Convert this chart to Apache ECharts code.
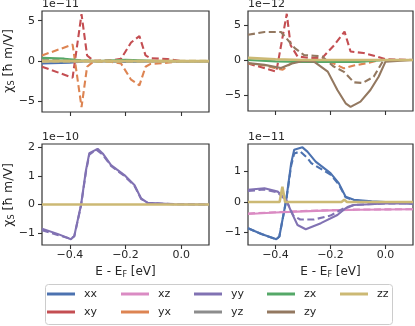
<!DOCTYPE html>
<html>
<head>
<meta charset="utf-8">
<script src="https://cdn.jsdelivr.net/npm/echarts@6/dist/echarts.min.js"></script>
<style>
html, body { margin: 0; padding: 0; background: #fff; }
#main { width: 415px; height: 326px; }
</style>
</head>
<body>
<div id="main"></div>
<script>
// component names and colours (legend order)
const comps = ['xx', 'xy', 'xz', 'yx', 'yy', 'yz', 'zx', 'zy', 'zz']
const colors = {
  xx: '#4c72b0', xy: '#c44e52', xz: '#da8bc3', yx: '#dd8452', yy: '#8172b3',
  yz: '#8c8c8c', zx: '#55a868', zy: '#937860', zz: '#ccb974'
}

const xTicks = [-0.4, -0.2, 0.0]
const yTicksTL = [-5, 0, 5]
const yTicksTR = [-5, 0, 5]
const yTicksBL = [-1, 0, 1, 2]
const yTicksBR = [-1, 0, 1]

// top left panel, units of 1e-11
const xyDashTL = [[-0.5,-0.7],[-0.39,-2.05],[-0.358,5.8],[-0.338,0.7],[-0.315,0.05],[-0.25,0.1],[-0.216,0.3],[-0.18,2.3],[-0.15,3.1],[-0.128,0.7],[-0.11,0.35],[-0.05,0.25],[0,0],[0.1,0]]
const yxDashTL = [[-0.5,0.7],[-0.39,2.05],[-0.358,-5.7],[-0.338,-0.7],[-0.315,-0.05],[-0.25,-0.1],[-0.216,-0.3],[-0.18,-2.3],[-0.15,-3.0],[-0.128,-0.7],[-0.11,-0.35],[-0.05,-0.2],[0,0],[0.1,0]]
const zxTL = [[-0.5,0.4],[-0.42,0.3],[-0.36,0.1],[-0.3,0],[-0.2,0.15],[-0.1,0.05],[0,0],[0.1,0]]
const xxTL = [[-0.5,-0.3],[-0.4,-0.2],[-0.35,-0.05],[-0.3,0],[-0.2,-0.1],[-0.1,-0.05],[0.1,0]]
const yzDashTL = [[-0.5,0.15],[-0.4,0.1],[-0.3,0],[0.1,0]]
const zzTL = [[-0.5,0],[0.1,0]]

// top right panel, units of 1e-12
const zyDashTR = [[-0.5,3.6],[-0.44,4.0],[-0.38,4.0],[-0.33,1.7],[-0.296,0.7],[-0.26,0.6],[-0.23,0.5],[-0.19,-0.9],[-0.151,-1.7],[-0.115,-3.2],[-0.083,-3.3],[-0.043,-2.4],[-0.007,0],[0.1,0]]
const zySolidTR = [[-0.5,-0.45],[-0.44,-0.7],[-0.38,-1.15],[-0.34,-0.5],[-0.3,-0.15],[-0.26,-0.24],[-0.21,-1.67],[-0.175,-4.3],[-0.145,-6.2],[-0.127,-6.7],[-0.091,-5.95],[-0.055,-4.3],[-0.025,-2.4],[0,-0.24],[0.1,0]]
const xyDashTR = [[-0.5,-0.5],[-0.397,-1.67],[-0.359,6.6],[-0.345,2.1],[-0.32,0.5],[-0.28,0.3],[-0.23,0.3],[-0.187,2.1],[-0.149,4.05],[-0.127,1.2],[-0.08,1.0],[-0.031,0.48],[0,0.1],[0.1,0]]
const yxDashTR = [[-0.5,-0.5],[-0.44,-0.8],[-0.374,-1.4],[-0.34,-0.4],[-0.3,-0.2],[-0.2,-0.3],[-0.151,-1.2],[-0.115,-0.8],[-0.06,-0.4],[-0.02,0],[0.1,0]]
const zxTR = [[-0.5,0],[-0.4,-0.2],[-0.3,-0.3],[-0.2,-0.3],[-0.1,-0.3],[-0.05,-0.15],[0,0],[0.1,0]]
const zzTR = [[-0.5,0.3],[-0.4,0.1],[-0.3,0],[0.1,0]]

// bottom left panel, units of 1e-10
const yySolidBL = [[-0.5,-0.85],[-0.444,-1.03],[-0.396,-1.22],[-0.384,-1.1],[-0.36,-0.03],[-0.342,1.2],[-0.33,1.8],[-0.3,1.95],[-0.282,1.79],[-0.252,1.38],[-0.204,1.03],[-0.168,0.68],[-0.144,0.21],[-0.12,0.06],[-0.024,0.01],[0.1,0]]
const yyDashBL = [[-0.5,-0.9],[-0.444,-1.07],[-0.396,-1.2],[-0.384,-1.12],[-0.36,-0.05],[-0.342,1.15],[-0.33,1.75],[-0.305,1.92],[-0.282,1.75],[-0.252,1.35],[-0.204,1.0],[-0.168,0.66],[-0.144,0.2],[-0.12,0.05],[-0.024,0.01],[0.1,0]]
const zzBL = [[-0.5,0],[0.1,0]]

// bottom right panel, units of 1e-11
const xxSolidBR = [[-0.5,-0.87],[-0.451,-1.06],[-0.397,-1.23],[-0.386,-1.14],[-0.361,0.07],[-0.343,1.28],[-0.332,1.72],[-0.302,1.8],[-0.284,1.66],[-0.254,1.33],[-0.2,0.95],[-0.17,0.62],[-0.145,0.17],[-0.115,0.07],[-0.05,0.02],[0.1,-0.05]]
const xxDashBR = [[-0.5,-0.87],[-0.451,-1.06],[-0.397,-1.23],[-0.386,-1.14],[-0.361,0.05],[-0.343,1.2],[-0.332,1.6],[-0.31,1.66],[-0.284,1.45],[-0.27,1.28],[-0.2,0.9],[-0.17,0.58],[-0.145,0.15],[-0.115,0.05],[-0.05,0],[0.1,-0.05]]
const yySolidBR = [[-0.5,0.4],[-0.44,0.45],[-0.392,0.34],[-0.361,0.07],[-0.343,-0.32],[-0.32,-0.76],[-0.29,-0.9],[-0.235,-0.7],[-0.175,-0.43],[-0.145,-0.21],[-0.115,-0.1],[0,-0.05],[0.1,-0.05]]
const yyDashBR = [[-0.5,0.36],[-0.44,0.41],[-0.392,0.31],[-0.361,0.05],[-0.335,-0.45],[-0.31,-0.58],[-0.26,-0.58],[-0.2,-0.45],[-0.15,-0.2],[-0.115,-0.1],[0,-0.05],[0.1,-0.05]]
const xzSolidBR = [[-0.5,-0.4],[-0.4,-0.35],[-0.3,-0.31],[-0.2,-0.28],[-0.1,-0.26],[0,-0.25],[0.1,-0.24]]
const xzDashBR = [[-0.5,-0.38],[-0.4,-0.34],[-0.3,-0.3],[-0.2,-0.27],[-0.1,-0.25],[0.1,-0.24]]
const zzBR = [[-0.5,0],[-0.385,0],[-0.375,0.5],[-0.365,0],[-0.16,0],[-0.15,0.07],[-0.14,0],[0.1,0]]

const textColor = '#262626'
const font = 'DejaVu Sans'

function minus(v){
  return String(v).replace('-', '\u2212')
}

function line(name, data, panel, dashed){
  return {
    name: name,
    type: 'line',
    xAxisIndex: panel,
    yAxisIndex: panel,
    data: data,
    showSymbol: false,
    symbol: 'none',
    animation: false,
    color: colors[name],
    lineStyle: {
      color: colors[name],
      width: name === 'zz' ? 2.6 : 2.1,
      type: dashed ? [7, 3.5] : 'solid'
    }
  }
}

const grids = [
  { left: 42, top: 11, width: 167, height: 101 },
  { left: 248, top: 11, width: 165, height: 100 },
  { left: 42, top: 144, width: 167, height: 101 },
  { left: 248, top: 144, width: 165, height: 101 }
]
const yRanges = [[-6.3, 6.2], [-7.3, 7.0], [-1.42, 2.12], [-1.42, 1.91]]
const yTicks = [yTicksTL, yTicksTR, yTicksBL, yTicksBR]
const offsets = ['1e\u221211', '1e\u221212', '1e\u221210', '1e\u221211']

const xAxes = grids.map((g, i) => ({
  type: 'value', gridIndex: i, min: -0.5, max: 0.1, position: 'bottom',
  splitLine: { show: false },
  axisLine: { show: false, onZero: false },
  axisTick: { show: true, length: 4, customValues: xTicks, lineStyle: { color: '#333', width: 1.1 } },
  axisLabel: {
    show: i >= 2, customValues: xTicks, margin: 5,
    fontSize: 11, fontFamily: font, color: textColor,
    formatter: v => minus(v.toFixed(1))
  }
}))
const yAxes = grids.map((g, i) => ({
  type: 'value', gridIndex: i, min: yRanges[i][0], max: yRanges[i][1], position: 'left',
  splitLine: { show: false },
  axisLine: { show: false, onZero: false },
  axisTick: { show: true, length: 4, customValues: yTicks[i], lineStyle: { color: '#333', width: 1.1 } },
  axisLabel: {
    customValues: yTicks[i], margin: 7,
    fontSize: 11, fontFamily: font, color: textColor,
    formatter: v => minus(v)
  }
}))

const series = [
  line('xx', xxTL, 0, false),
  line('xy', xyDashTL, 0, true),
  line('yx', yxDashTL, 0, true),
  line('yz', yzDashTL, 0, true),
  line('zx', zxTL, 0, false),
  line('zz', zzTL, 0, false),
  line('zz', zzTL, 0, true),

  line('xy', xyDashTR, 1, true),
  line('yx', yxDashTR, 1, true),
  line('zx', zxTR, 1, false),
  line('zy', zySolidTR, 1, false),
  line('zy', zyDashTR, 1, true),
  line('zz', zzTR, 1, false),

  line('yy', yySolidBL, 2, false),
  line('yy', yyDashBL, 2, true),
  line('zz', zzBL, 2, false),

  line('xx', xxSolidBR, 3, false),
  line('xx', xxDashBR, 3, true),
  line('xz', xzSolidBR, 3, false),
  line('xz', xzDashBR, 3, true),
  line('yy', yySolidBR, 3, false),
  line('yy', yyDashBR, 3, true),
  line('zz', zzBR, 3, false)
]

// legend is column-major: 5 columns of 2
const legendLeft = [47, 121, 194, 267, 340]
const legends = legendLeft.map((x, c) => ({
  orient: 'vertical', left: x, top: 288, padding: 0,
  data: comps.slice(c * 2, c * 2 + 2),
  icon: 'rect', itemWidth: 28, itemHeight: 3, itemGap: 6,
  selectedMode: false,
  textStyle: { fontSize: 11, fontFamily: font, color: textColor, lineHeight: 12, padding: [0, 0, 0, 4] }
}))

const ylab = 'χ{s|S} [ħ m/V]'
const sub = { fontSize: 8, fontFamily: font, fill: textColor, padding: [5, 0, 0, 0] }
const graphics = [
  { type: 'rect', shape: { x: 45.5, y: 284.5, width: 347, height: 40, r: 3 },
    style: { fill: 'none', stroke: '#cccccc', lineWidth: 1 }, silent: true },
  { type: 'text', x: 9, y: 61, rotation: Math.PI / 2,
    style: { text: ylab, fontSize: 12.5, fontFamily: font, fill: textColor, align: 'center', verticalAlign: 'middle', rich: { s: sub } } },
  { type: 'text', x: 9, y: 195, rotation: Math.PI / 2,
    style: { text: ylab, fontSize: 12.5, fontFamily: font, fill: textColor, align: 'center', verticalAlign: 'middle', rich: { s: sub } } },
  { type: 'text', x: 125.5, y: 272,
    style: { text: 'E - E{s|F} [eV]', fontSize: 12, fontFamily: font, fill: textColor, align: 'center', verticalAlign: 'middle', rich: { s: sub } } },
  { type: 'text', x: 330.5, y: 272,
    style: { text: 'E - E{s|F} [eV]', fontSize: 12, fontFamily: font, fill: textColor, align: 'center', verticalAlign: 'middle', rich: { s: sub } } }
]
grids.forEach((g, i) => {
  graphics.push({ type: 'text', x: g.left, y: g.top - 1,
    style: { text: offsets[i], fontSize: 11, fontFamily: font, fill: textColor, align: 'left', verticalAlign: 'bottom' } })
})

const chart = echarts.init(document.getElementById('main'), null, { renderer: 'canvas' })
chart.setOption({
  animation: false,
  grid: grids.map(g => Object.assign({ show: true, borderColor: '#333', borderWidth: 1.2, backgroundColor: 'transparent' }, g)),
  xAxis: xAxes,
  yAxis: yAxes,
  legend: legends,
  graphic: graphics,
  series: series
})
</script>
</body>
</html>
